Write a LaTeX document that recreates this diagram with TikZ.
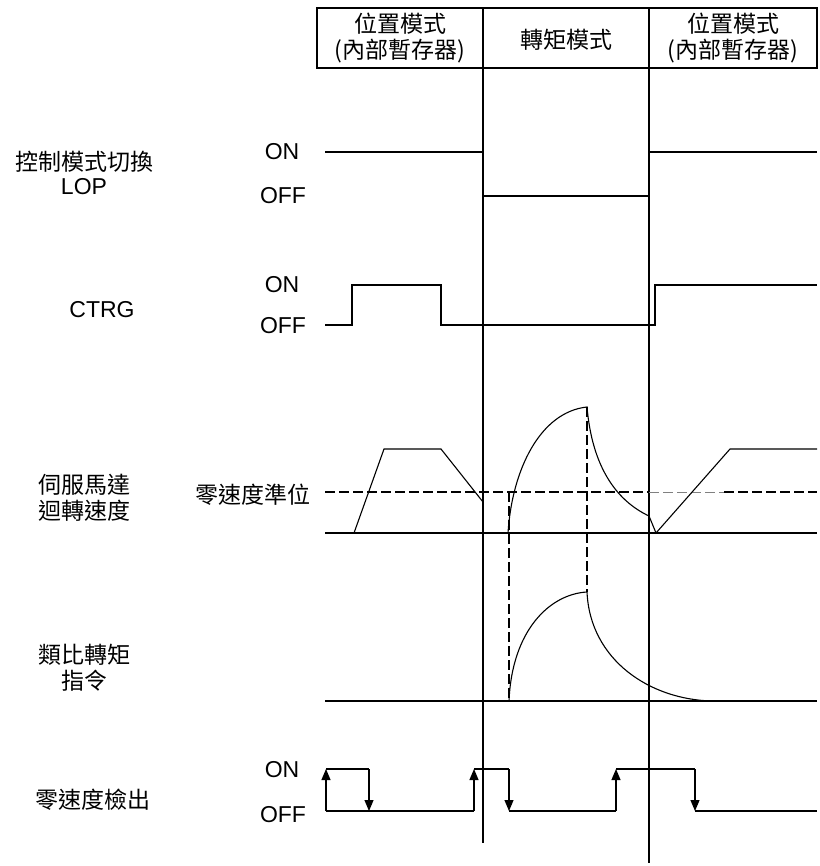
\documentclass[tikz,border=0pt]{standalone}
\usepackage{fontspec}
\setmainfont{Liberation Sans}
\newfontfamily\cjk{Noto Sans CJK TC}
\usetikzlibrary{arrows.meta}
\begin{document}
\begin{tikzpicture}[x=0.5pt,y=-0.5pt,every node/.style={font=\fontsize{11.5}{13}\selectfont,inner sep=0pt},
  sig/.style={line width=0.55pt},
  lvl/.style={line width=1.1pt,dash pattern=on 5pt off 2pt},
  thinlvl/.style={line width=0.4pt,gray,dash pattern=on 5pt off 2pt},
  uptip/.style={-{Triangle[length=5.5pt,width=4.5pt]}}]
\useasboundingbox (0,0) rectangle (819,866);
% Mode header
\draw[sig] (317,8) rectangle (817,68);
\draw[sig] (483,8) -- (483,843);
\draw[sig] (649,8) -- (649,863);
\node[font=\cjk\fontsize{11.5}{13}\selectfont,align=center] (posA) at (400,38) {位置模式\\(內部暫存器)};
\node[font=\cjk\fontsize{11.5}{13}\selectfont] (torq) at (566,40) {轉矩模式};
\node[font=\cjk\fontsize{11.5}{13}\selectfont,align=center] (posB) at (733,38) {位置模式\\(內部暫存器)};
% Signal names
\node[font=\cjk\fontsize{11.5}{13}\selectfont] (lopA) at (84,162) {控制模式切換};
\node (lopB) at (84,187) {LOP};
\node (ctrg) at (102,310) {CTRG};
\node[font=\cjk\fontsize{11.5}{13}\selectfont,align=center] (spd) at (84,498) {伺服馬達\\迴轉速度};
\node[font=\cjk\fontsize{11.5}{13}\selectfont,align=center] (tcmd) at (84,668) {類比轉矩\\指令};
\node[font=\cjk\fontsize{11.5}{13}\selectfont] (zdet) at (93,800) {零速度檢出};
% ON / OFF levels
\foreach \y/\n in {152/on1,285/on2,770/on3} \node (\n) at (282,\y) {ON};
\foreach \y/\n in {196/off1,326/off2,815/off3} \node (\n) at (283,\y) {OFF};
\node[font=\cjk\fontsize{11.5}{13}\selectfont] (zlvl) at (253,495) {零速度準位};
% LOP
\draw[sig] (325,152) -- (483,152) -- (483,196) -- (649,196) -- (649,152) -- (817,152);
% CTRG
\draw[sig] (325,325) -- (352,325) -- (352,285) -- (441,285) -- (441,325) -- (655,325) -- (655,285) -- (817,285);
% Motor speed
\draw[sig] (325,533) -- (817,533);
\draw[lvl] (325,492) -- (649,492);
\draw[thinlvl] (649,492) -- (724,492);
\draw[lvl] (724,492) -- (817,492);
\draw[sig] (354,533) -- (384,449) -- (441,449) -- (483,502);
\draw[sig] (508,533) .. controls (512,470) and (540,412) .. (587,407)
  .. controls (592,465) and (615,500) .. (649,516) -- (656,533) -- (730,449) -- (817,449);
\draw[lvl] (509,492) -- (509,701);
\draw[lvl] (587,407) -- (587,592);
% Analog torque command
\draw[sig] (325,701) -- (817,701);
\draw[sig] (509,701) .. controls (512,630) and (550,594) .. (587,592)
  .. controls (590,660) and (650,700) .. (713,701);
% Zero speed detection
\draw[sig] (326,811) -- (474,811);
\draw[sig] (509,811) -- (616,811);
\draw[sig] (695,811) -- (817,811);
\foreach \a/\b in {326/369,474/509,616/695} {
  \draw[sig,uptip] (\a,811) -- (\a,769);
  \draw[sig] (\a,769) -- (\b,769);
  \draw[sig,uptip] (\b,769) -- (\b,811);
}
\end{tikzpicture}
\end{document}
